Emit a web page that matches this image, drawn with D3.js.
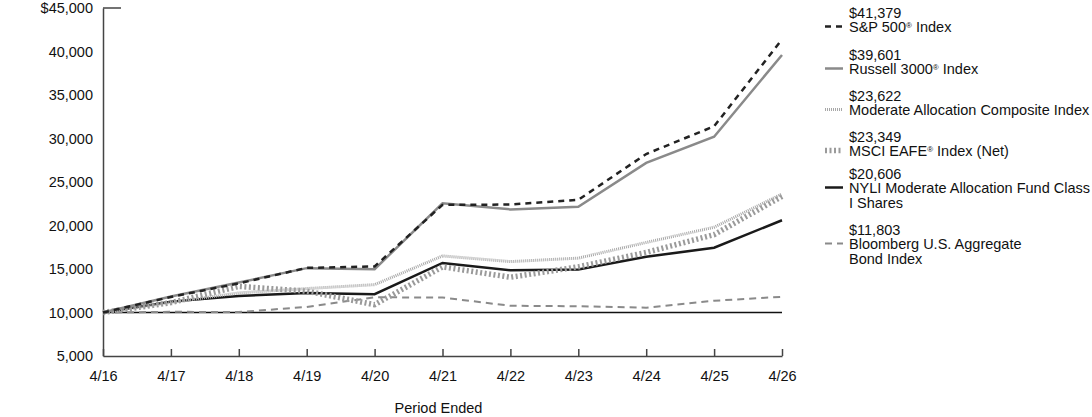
<!DOCTYPE html>
<html>
<head>
<meta charset="utf-8">
<script src="https://cdn.jsdelivr.net/npm/d3@7"></script>
<style>
    body { margin: 0; background: #fff; }
    text { font-family: "Liberation Sans", Arial, sans-serif; }
</style>
</head>
<body>
<div id="chart"></div>
<script>
// period labels along the x axis
const periods = ["4/16", "4/17", "4/18", "4/19", "4/20", "4/21", "4/22", "4/23", "4/24", "4/25", "4/26"]

const sp500 = [10000, 11790, 13350, 15130, 15290, 22370, 22410, 22950, 28220, 31400, 41379]
const russell3000 = [10000, 11830, 13440, 15100, 14980, 22550, 21850, 22150, 27200, 30200, 39601]
const modAllocComposite = [10000, 11150, 12250, 12750, 13200, 16500, 15850, 16250, 18050, 19800, 23622]
const msciEafe = [10000, 11130, 13000, 12450, 10900, 15250, 14050, 15250, 16900, 18950, 23349]
const nyliFund = [10000, 11250, 11900, 12250, 12100, 15700, 14850, 14950, 16400, 17450, 20606]
const bloombergAgg = [10000, 10080, 10050, 10640, 11750, 11720, 10770, 10720, 10560, 11350, 11803]

const yTicks = [5000, 10000, 15000, 20000, 25000, 30000, 35000, 40000, 45000]

const series = [
    { name: [["S&P 500", "®", " Index"]], ending: "$41,379", values: sp500,
      color: "#222", width: 2.5, dash: "6,5" },
    { name: [["Russell 3000", "®", " Index"]], ending: "$39,601", values: russell3000,
      color: "#8a8a8a", width: 2.5, dash: null },
    { name: [["Moderate Allocation Composite Index"]], ending: "$23,622", values: modAllocComposite,
      color: "#a8a8a8", width: 3, dash: "1,1" },
    { name: [["MSCI EAFE", "®", " Index (Net)"]], ending: "$23,349", values: msciEafe,
      color: "#9a9a9a", width: 5.5, dash: "2,2.5" },
    { name: [["NYLI Moderate Allocation Fund Class"], ["I Shares"]], ending: "$20,606", values: nyliFund,
      color: "#1a1a1a", width: 2.5, dash: null },
    { name: [["Bloomberg U.S. Aggregate"], ["Bond Index"]], ending: "$11,803", values: bloombergAgg,
      color: "#8a8a8a", width: 2, dash: "7,5" },
]

const fontSize = 14.5

const dimensions = {
    width: 1092,
    height: 417,
    margin: { top: 8, right: 310, bottom: 61, left: 103 },
}
dimensions.boundedWidth = dimensions.width - dimensions.margin.left - dimensions.margin.right
dimensions.boundedHeight = dimensions.height - dimensions.margin.top - dimensions.margin.bottom

const wrapper = d3.select("#chart")
    .append("svg")
    .attr("width", dimensions.width)
    .attr("height", dimensions.height)

const bounds = wrapper.append("g")
    .attr("transform", `translate(${dimensions.margin.left},${dimensions.margin.top})`)

const xScale = d3.scalePoint()
    .domain(periods)
    .range([0, dimensions.boundedWidth])

const yScale = d3.scaleLinear()
    .domain([5000, 45000])
    .range([dimensions.boundedHeight, 0])

// y axis: line + labels only, with a short inward tick at the top
const yAxis = bounds.append("g")
    .call(d3.axisLeft(yScale)
        .tickValues(yTicks)
        .tickSize(0)
        .tickPadding(10)
        .tickFormat(d => d == 45000 ? "$" + d3.format(",")(d) : d3.format(",")(d)))
yAxis.select(".domain").attr("stroke", "#444").attr("stroke-width", 1.5)
yAxis.selectAll("text").attr("font-size", fontSize).attr("fill", "#111")

bounds.append("line")
    .attr("x1", 0).attr("x2", 18)
    .attr("y1", yScale(45000)).attr("y2", yScale(45000))
    .attr("stroke", "#444").attr("stroke-width", 1.5)

// x axis with upward ticks
const xAxis = bounds.append("g")
    .attr("transform", `translate(0,${dimensions.boundedHeight})`)
    .call(d3.axisBottom(xScale).tickSizeInner(-7).tickSizeOuter(0).tickPadding(15))
xAxis.select(".domain").attr("stroke", "#444").attr("stroke-width", 1.5)
xAxis.selectAll(".tick line").attr("stroke", "#444").attr("stroke-width", 1.5)
xAxis.selectAll("text").attr("font-size", fontSize).attr("fill", "#111")

// $10,000 reference line
bounds.append("line")
    .attr("x1", 0).attr("x2", dimensions.boundedWidth)
    .attr("y1", yScale(10000)).attr("y2", yScale(10000))
    .attr("stroke", "#111").attr("stroke-width", 1.5)

const lineGenerator = d3.line()
    .x((d, i) => xScale(periods[i]))
    .y(d => yScale(d))

bounds.selectAll(".series")
    .data(series.slice().reverse())
    .join("path")
    .attr("class", "series")
    .attr("d", d => lineGenerator(d.values))
    .attr("fill", "none")
    .attr("stroke", d => d.color)
    .attr("stroke-width", d => d.width)
    .attr("stroke-dasharray", d => d.dash)

wrapper.append("text")
    .attr("x", dimensions.margin.left + dimensions.boundedWidth / 2 - 4)
    .attr("y", 413)
    .attr("text-anchor", "middle")
    .attr("font-size", fontSize)
    .attr("fill", "#111")
    .text("Period Ended")

// legend
const legendTops = [13, 55, 96, 137, 174, 230]
const legend = wrapper.append("g")
series.forEach((s, i) => {
    const top = legendTops[i]
    const g = legend.append("g").attr("transform", `translate(0,${top})`)
    g.append("text")
        .attr("x", 849).attr("y", 0).attr("dy", "0.35em")
        .attr("font-size", fontSize).attr("fill", "#111")
        .text(s.ending)
    s.name.forEach((parts, j) => {
        const t = g.append("text")
            .attr("x", 849).attr("y", 13.5 + j * 15 + 5)
            .attr("font-size", fontSize).attr("fill", "#111")
        let raised = false
        parts.forEach(p => {
            if (p == "®") {
                t.append("tspan").attr("font-size", 8).attr("dy", -4).text(p)
                raised = true
            } else {
                t.append("tspan").attr("dy", raised ? 4 : null).text(p)
                raised = false
            }
        })
    })
    g.append("line")
        .attr("x1", 825).attr("x2", 843)
        .attr("y1", 13.5).attr("y2", 13.5)
        .attr("stroke", s.color)
        .attr("stroke-width", s.width)
        .attr("stroke-dasharray", s.dash)
})
</script>
</body>
</html>
